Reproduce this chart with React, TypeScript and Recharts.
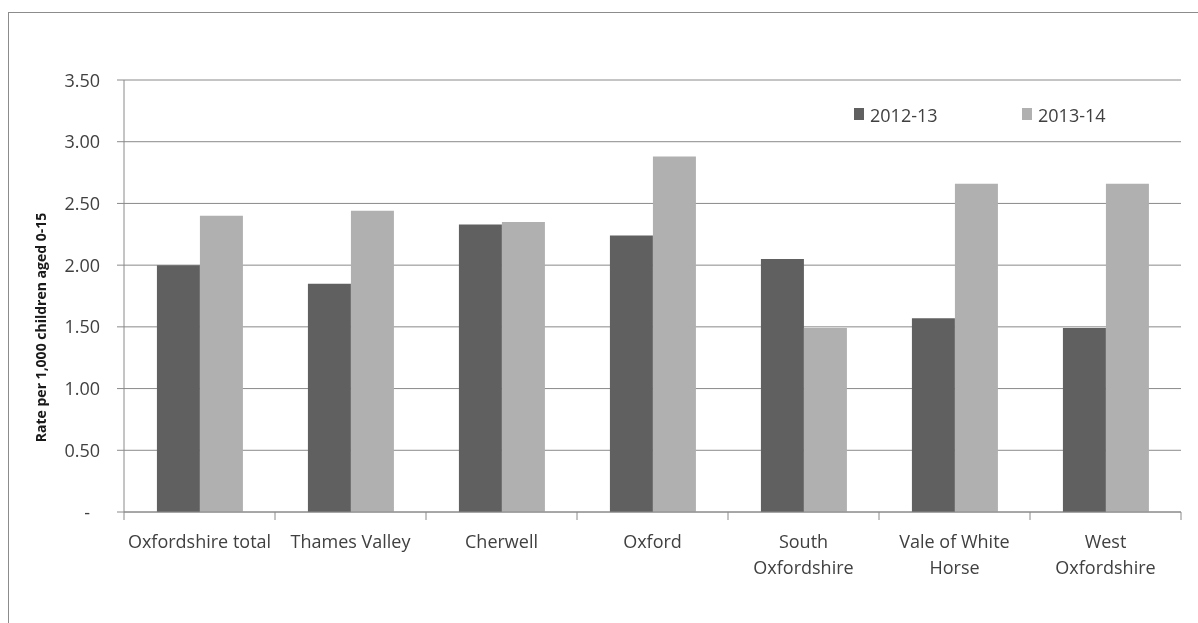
import React from 'react';
import { BarChart, Bar, XAxis, YAxis, CartesianGrid, Legend, Label } from 'recharts';

const categories = ['Oxfordshire total', 'Thames Valley', 'Cherwell', 'Oxford', 'South Oxfordshire', 'Vale of White Horse', 'West Oxfordshire'];
const tickLines = [['Oxfordshire total'], ['Thames Valley'], ['Cherwell'], ['Oxford'], ['South', 'Oxfordshire'], ['Vale of White', 'Horse'], ['West', 'Oxfordshire']];
const series2012 = [2.0, 1.85, 2.33, 2.24, 2.05, 1.57, 1.49];
const series2013 = [2.4, 2.44, 2.35, 2.88, 1.49, 2.66, 2.66];
const seriesNames = ['2012-13', '2013-14'];
const yTicks = [0, 0.5, 1, 1.5, 2, 2.5, 3, 3.5];
const yTitle = 'Rate per 1,000 children aged 0-15';

const data = categories.map((c, i) => ({ name: c, a: series2012[i], b: series2013[i] }));

const W = 1185;
const H = 600;
const M = { top: 67, right: 13, left: 0, bottom: 41 };
const Y_W = 115;
const BAND = (W - M.left - M.right - Y_W) / categories.length;
const DARK = '#606060';
const LIGHT = '#b0b0b0';
const LINE = '#8a8a8a';
const TXT = '#404040';
const FONT = '"Open Sans", sans-serif';

const XTick = (props: any) => {
  const { x, y, payload, index } = props;
  const lines = tickLines[index] || [String(payload.value)];
  const last = index === categories.length - 1;
  return (
    <g>
      <line x1={x - BAND / 2} x2={x - BAND / 2} y1={y} y2={y + 8} stroke={LINE} />
      {last && <line x1={x + BAND / 2} x2={x + BAND / 2} y1={y} y2={y + 8} stroke={LINE} />}
      {lines.map((l, i) => (
        <text key={i} x={x} y={y + 36 + i * 25.6} textAnchor="middle" fill={TXT} fontSize={18} fontFamily={FONT}>
          {l}
        </text>
      ))}
    </g>
  );
};

const YTick = (props: any) => {
  const { x, y, payload } = props;
  const v = payload.value;
  const s = v === 0 ? '-' : v.toFixed(2);
  return (
    <text x={v === 0 ? x - 10 : x} y={y + 6.5} textAnchor="end" fill={TXT} fontSize={18} fontFamily={FONT}>
      {s}
    </text>
  );
};

const LegendContent = () => (
  <div style={{ display: 'flex', fontFamily: FONT, fontSize: 18, color: TXT, lineHeight: '20px' }}>
    {seriesNames.map((n, i) => (
      <div key={n} style={{ display: 'flex', alignItems: 'center', width: 168 }}>
        <span style={{ display: 'inline-block', width: 10, height: 12, background: i === 0 ? DARK : LIGHT, marginRight: 6, marginTop: -2 }} />
        <span>{n}</span>
      </div>
    ))}
  </div>
);

const YTitle = () => {
  const cx = 36.5;
  const cy = 314.5;
  return (
    <text x={cx} y={cy} transform={`rotate(-90, ${cx}, ${cy})`} textAnchor="middle" fontWeight="bold" fontSize={14} fontFamily={FONT} fill="#1a1a1a">
      {yTitle}
    </text>
  );
};

export default function App() {
  return (
    <div style={{ paddingTop: 4 }}>
      <div style={{ position: 'fixed', left: 8, top: 12, width: 1250, height: 700, border: '1px solid #8c8c8c', pointerEvents: 'none' }} />
      <div style={{ width: W, height: H, borderTop: '1px solid transparent', borderLeft: '1px solid transparent', position: 'relative' }}>
        <BarChart width={W} height={H} data={data} margin={M} barCategoryGap="21.8%" barGap={0}>
          <CartesianGrid vertical={false} stroke={LINE} strokeDasharray="" />
          <XAxis
            dataKey="name"
            interval={0}
            height={60}
            tickSize={0}
            tickMargin={0}
            tickLine={false}
            axisLine={{ stroke: LINE }}
            tick={<XTick />}
          />
          <YAxis
            width={Y_W}
            domain={[0, 3.5]}
            ticks={yTicks}
            interval={0}
            tickSize={7}
            tickMargin={17}
            tickLine={{ stroke: LINE }}
            axisLine={{ stroke: LINE }}
            tick={<YTick />}
          >
            <Label content={<YTitle />} />
          </YAxis>
          <Legend
            layout="horizontal"
            verticalAlign="middle"
            align="center"
            content={<LegendContent />}
            wrapperStyle={{ left: 845, top: 92, width: 340, height: 20 }}
          />
          <Bar dataKey="a" name={seriesNames[0]} fill={DARK} isAnimationActive={false} />
          <Bar dataKey="b" name={seriesNames[1]} fill={LIGHT} isAnimationActive={false} />
        </BarChart>
      </div>
    </div>
  );
}
